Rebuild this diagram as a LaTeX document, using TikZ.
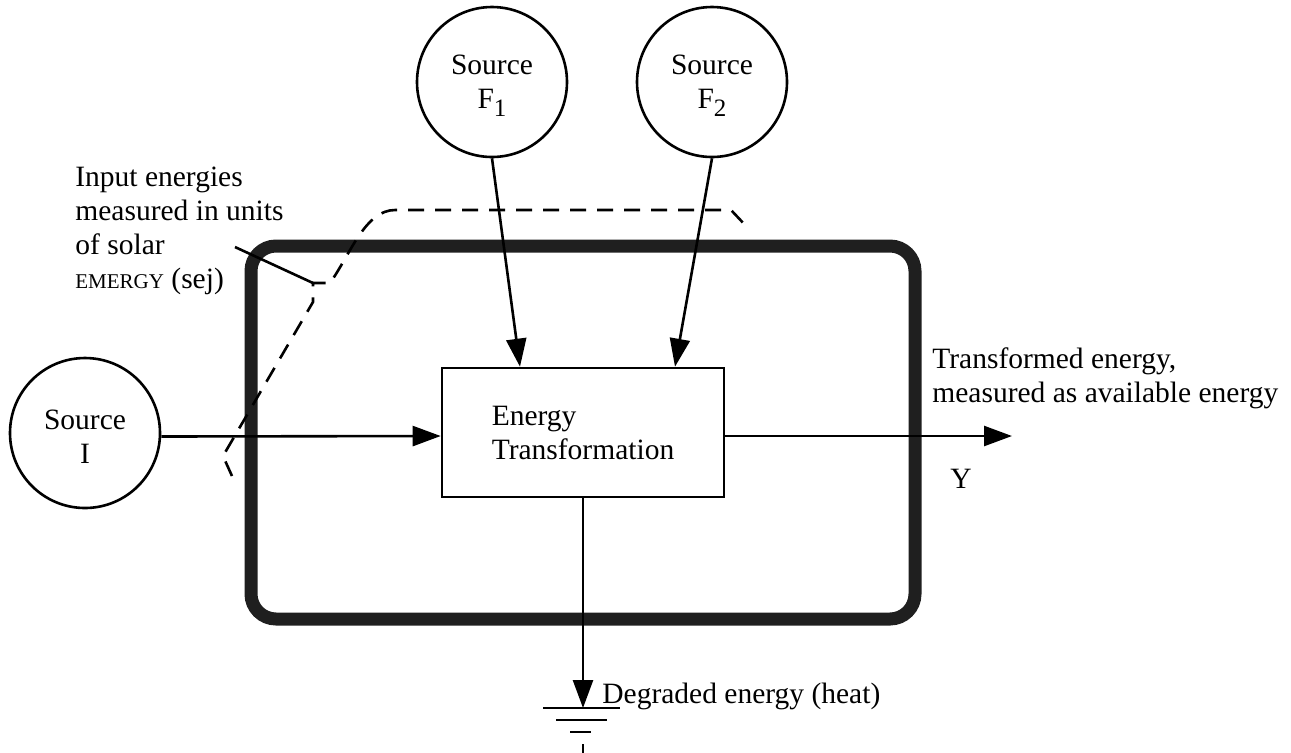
\documentclass[tikz,border=0pt]{standalone}
\usepackage{fontspec}
\setmainfont{Liberation Serif}
\usetikzlibrary{arrows.meta}
\newcommand\lblfont{\fontsize{14.75}{17}\selectfont}
\newcommand\subfig[1]{\raisebox{-4pt}{\fontsize{12.5}{13}\selectfont #1}}
\tikzset{
  wire/.style={line width=1.3pt},
  flow/.style={wire, -{Triangle[length=14pt,width=10pt]}},
  src/.style={circle, draw, line width=1.3pt, minimum size=75pt, inner sep=0pt},
  srctext/.style={inner sep=0pt, align=center, font=\lblfont},
  procbox/.style={rectangle, draw, line width=1.3pt, minimum width=141pt,
              minimum height=64.5pt, inner sep=0pt, align=left, font=\lblfont},
  boundary/.style={rectangle, draw=black!88, line width=6.5pt, rounded corners=12.5pt,
              minimum width=332pt, minimum height=186.5pt, inner sep=0pt},
  lbl/.style={inner sep=0pt, font=\lblfont, align=left},
  fence/.style={line width=1.3pt, dash pattern=on 8pt off 5.5pt},
}
\begin{document}
\begin{tikzpicture}[x=0.5pt, y=-0.5pt]
\useasboundingbox (0,0) rectangle (1291,752);

% system boundary
\node[boundary] (sys) at (583,432.5) {};

% sources
\node[src] (srcI)  at (85,433) {};
\node[src] (srcF1) at (492,82) {};
\node[src] (srcF2) at (712,82) {};
\node[srctext] at ([yshift=-2pt]srcI.center)  {Source\\I};
\node[srctext] at ([yshift=-2pt]srcF1.center) {Source\\F\subfig{1}};
\node[srctext] at ([yshift=-2pt]srcF2.center) {Source\\F\subfig{2}};

% transformation process
\node[procbox] (proc) at (583,432.5) {Energy\\Transformation};

% flows
\coordinate (yout) at (1012,436);
\coordinate (gnd)  at (583,708);
\draw[flow] ([yshift=-1.75pt]srcI.east) -- ([yshift=-1.75pt]proc.west);
\draw[flow] ([yshift=-1.75pt]proc.east) -- (yout);
\draw[flow] (srcF1.south) -- ([xshift=-31.5pt]proc.north);
\draw[flow] (srcF2.south) -- ([xshift=46pt]proc.north);
\draw[flow] (proc.south) -- (gnd);

% heat sink
\draw[wire] ([xshift=-20pt]gnd) -- ([xshift=18.5pt]gnd);
\draw[wire] ([xshift=-13.5pt,yshift=-6pt]gnd) -- ([xshift=12pt,yshift=-6pt]gnd);
\draw[wire] ([xshift=-6.5pt,yshift=-12pt]gnd) -- ([xshift=4pt,yshift=-12pt]gnd);
\draw[wire] ([yshift=-18pt]gnd) -- ([yshift=-23pt]gnd);

% labels
\node[lbl, anchor=north west] (outlbl) at (932,347)
  {Transformed energy,\\measured as available energy};
\node[lbl, anchor=base west] (ylbl) at (950,488) {Y};
\node[lbl, anchor=base west] (heatlbl) at (602,703) {Degraded energy (heat)};
\node[lbl, anchor=north west] (emlbl) at (75,167)
  {Input energies\\measured in units\\of solar\\{\fontsize{10.5}{12}\selectfont EMERGY} (sej)};

% emergy boundary (dashed) and its leader
\coordinate (corner) at (313,283);
\draw[wire] (235,247) -- (corner);
\draw[fence] (232,476) -- (223,456) -- (313,302) -- (corner) -- (330,283)
  .. controls (350,255) and (365,210) .. (395,210) -- (731,210) -- (747,227);
\end{tikzpicture}
\end{document}
